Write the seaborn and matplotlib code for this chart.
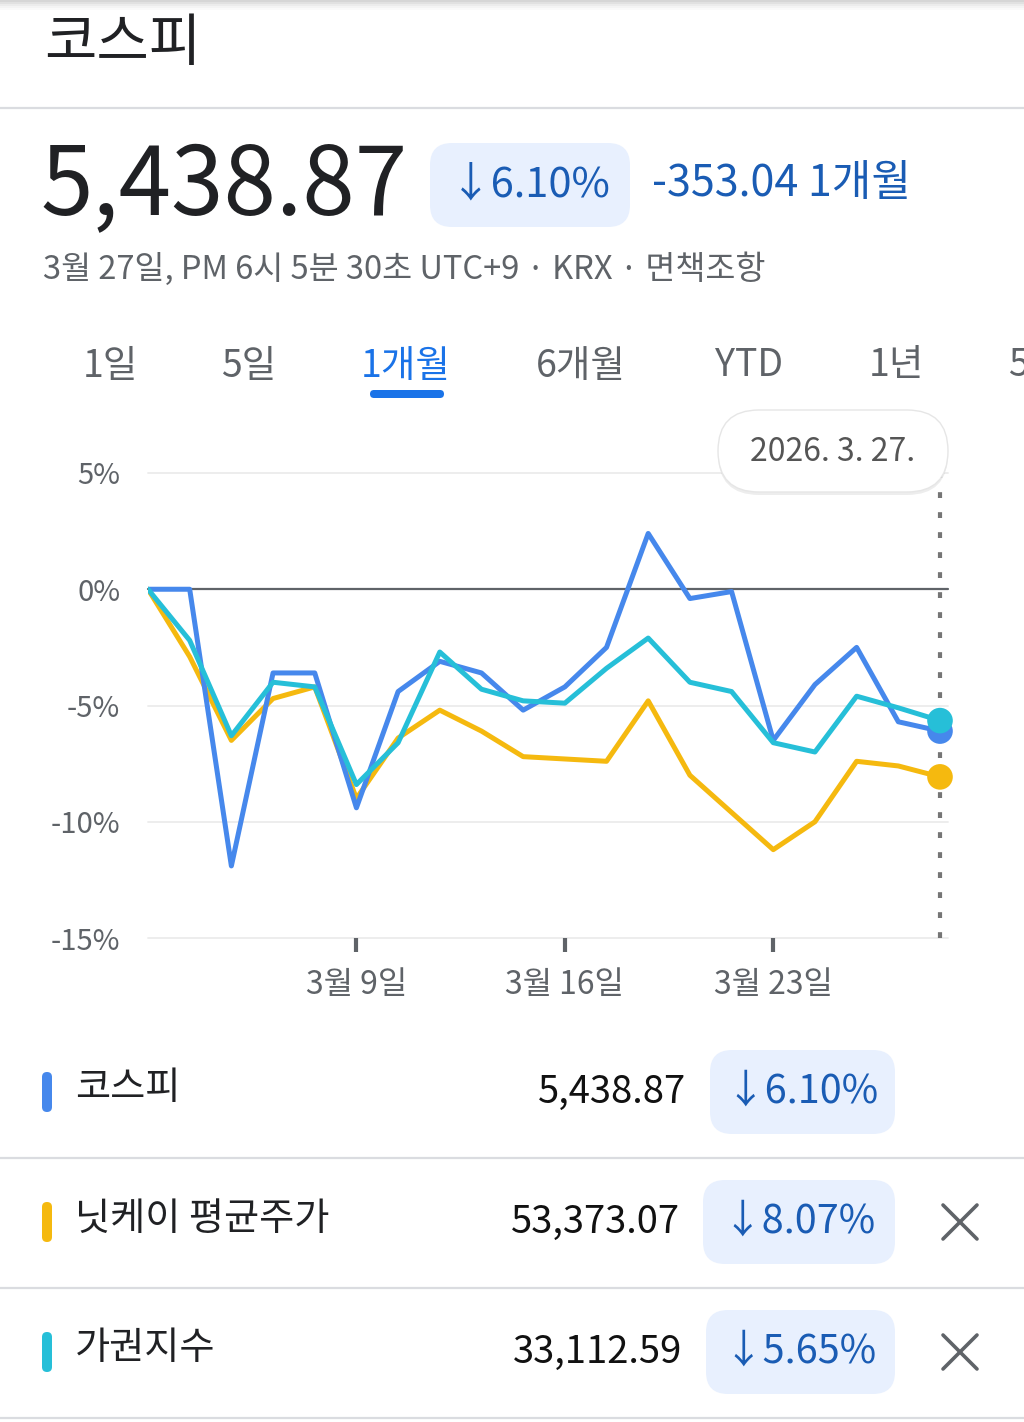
import matplotlib
matplotlib.use("Agg")
import matplotlib.pyplot as plt
from matplotlib.patches import FancyBboxPatch, Rectangle
import pandas as pd
import seaborn as sns

# trading sessions 3/2 .. 3/27, % change vs first session
sessions = list(range(20))
kospi = [0.0, 0.0, -11.9, -3.6, -3.6, -9.4, -4.4, -3.1, -3.6, -5.2,
         -4.2, -2.5, 2.4, -0.4, -0.1, -6.5, -4.1, -2.5, -5.7, -6.10]
nikkei = [0.0, -2.9, -6.5, -4.7, -4.2, -9.0, -6.4, -5.2, -6.1, -7.2,
          -7.3, -7.4, -4.8, -8.0, -9.6, -11.2, -10.0, -7.4, -7.6, -8.07]
taiex = [0.0, -2.2, -6.3, -4.0, -4.2, -8.4, -6.6, -2.7, -4.3, -4.8,
         -4.9, -3.4, -2.1, -4.0, -4.4, -6.6, -7.0, -4.6, -5.1, -5.65]

series_names = ["코스피", "닛케이 평균주가", "가권지수"]
series_colors = ["#4688ec", "#f5b90f", "#26bfd8"]
last_prices = ["5,438.87", "53,373.07", "33,112.59"]
changes = ["↓6.10%", "↓8.07%", "↓5.65%"]

y_ticks = [5, 0, -5, -10, -15]
y_tick_labels = ["5%", "0%", "-5%", "-10%", "-15%"]
x_tick_pos = [5, 10, 15]
x_tick_labels = ["3월 9일", "3월 16일", "3월 23일"]
range_tabs = ["1일", "5일", "1개월", "6개월", "YTD", "1년", "5"]

W, H = 1024, 1422
DARK = "#202124"
GRAY = "#5f6368"
PILL_BG = "#e8f0fe"
PILL_FG = "#1a5cb4"
SEP = "#dadce0"

sns.set_theme(style="white")
plt.rcParams["font.family"] = ["Noto Sans CJK KR", "DejaVu Sans"]

fig = plt.figure(figsize=(W / 100, H / 100), dpi=100)
fig.patch.set_facecolor("white")

# ---- chart --------------------------------------------------------------
ax = fig.add_axes([148 / W, 1 - 938 / H, (940 - 148) / W, (938 - 473) / H])
ax.set_facecolor("none")

df = pd.DataFrame({
    "session": sessions * 3,
    "pct": kospi + nikkei + taiex,
    "index": [series_names[0]] * 20 + [series_names[1]] * 20 + [series_names[2]] * 20,
})
palette = dict(zip(series_names, series_colors))
draw_order = [series_names[1], series_names[0], series_names[2]]

for t in y_ticks:
    if t != 0:
        ax.axhline(t, color="#ececec", lw=1.3, zorder=0, xmax=1.01, clip_on=False)
ax.axhline(0, color="#5f6368", lw=1.6, zorder=1, xmax=1.01, clip_on=False)
ax.vlines(19, -15, 5, color="#757575", lw=3,
          linestyles=[(0, (1.4, 3.4))], zorder=1, clip_on=False)

sns.lineplot(data=df, x="session", y="pct", hue="index", hue_order=draw_order,
             palette=palette, lw=3.6, ax=ax, legend=False, zorder=3)
last = df[df["session"] == sessions[-1]]
sns.scatterplot(data=last, x="session", y="pct", hue="index", hue_order=draw_order,
                palette=palette, s=340, linewidth=0, ax=ax, legend=False,
                zorder=4, clip_on=False)

ax.set_xlim(sessions[0], sessions[-1])
ax.set_ylim(-15, 5)
ax.set_yticks(y_ticks)
ax.set_yticklabels(y_tick_labels, fontsize=21, color=GRAY)
ax.set_xticks(x_tick_pos)
ax.set_xticklabels(x_tick_labels, fontsize=23, color=GRAY)
ax.tick_params(axis="y", left=False, length=0, pad=20)
ax.tick_params(axis="x", bottom=True, length=10, width=3, color=GRAY, pad=12,
               direction="out")
ax.set_xlabel("")
ax.set_ylabel("")
for s in ax.spines.values():
    s.set_visible(False)

# ---- page overlay (pixel coordinates) -----------------------------------
ov = fig.add_axes([0, 0, 1, 1], zorder=10)
ov.set_xlim(0, W)
ov.set_ylim(H, 0)
ov.axis("off")
ov.patch.set_alpha(0)

for i, a in enumerate([0.35, 0.25, 0.16, 0.09, 0.04]):
    ov.add_patch(Rectangle((0, i * 2), W, 2, color="#8a8a8a", alpha=a, lw=0))

ov.text(44, 44, "코스피", fontsize=41, color=DARK, va="center", ha="left")
for yy in (108, 1158, 1288, 1418):
    ov.plot([0, W], [yy, yy], color=SEP, lw=1.6, solid_capstyle="butt")

ov.text(40, 188, last_prices[0], fontsize=68, color=DARK, va="center", ha="left")


def pill(x0, x1, y0, y1, text, size):
    ov.add_patch(FancyBboxPatch((x0, y0), x1 - x0, y1 - y0,
                                boxstyle="round,pad=0,rounding_size=22",
                                fc=PILL_BG, ec="none"))
    ov.text((x0 + x1) / 2, (y0 + y1) / 2, text, fontsize=size, color=PILL_FG,
            va="center", ha="center")


pill(430, 630, 143, 227, changes[0], 30)
ov.text(652, 184, "-353.04 1개월", fontsize=31, color=PILL_FG, va="center", ha="left")
ov.text(43, 269, "3월 27일, PM 6시 5분 30초 UTC+9 · KRX · 면책조항",
        fontsize=23.5, color=GRAY, va="center", ha="left")

tab_x = [110, 249, 406, 581, 749, 896]
for label, tx in zip(range_tabs, tab_x):
    active = label == "1개월"
    ov.text(tx, 366, label, fontsize=27, color="#1a73e8" if active else GRAY,
            va="center", ha="center")
# last tab runs off the right edge, as in the screenshot
ov.text(1008, 366, range_tabs[-1], fontsize=27, color=GRAY, va="center", ha="left")
ov.add_patch(FancyBboxPatch((370, 390), 74, 8, boxstyle="round,pad=0,rounding_size=4",
                            fc="#1a73e8", ec="none"))

# tooltip
ov.add_patch(FancyBboxPatch((718, 413), 230, 82, boxstyle="round,pad=0,rounding_size=41",
                            fc="#000000", alpha=0.07, ec="none"))
ov.add_patch(FancyBboxPatch((718, 410), 230, 82, boxstyle="round,pad=0,rounding_size=41",
                            fc="white", ec="#e6e6e6", lw=1))
ov.text(833, 452, "2026. 3. 27.", fontsize=23, color="#555555", va="center", ha="center")

# legend rows
row_y = [1092, 1222, 1352]
price_right = [686, 680, 682]
pill_left = [710, 703, 706]
for i, (name, col, price, chg) in enumerate(zip(series_names, series_colors,
                                                 last_prices, changes)):
    yc = row_y[i]
    ov.add_patch(FancyBboxPatch((42, yc - 20), 10, 40, boxstyle="round,pad=0,rounding_size=5",
                                fc=col, ec="none"))
    ov.text(75, yc - 3, name, fontsize=27.5, color=DARK, va="center", ha="left")
    ov.text(price_right[i], yc, price, fontsize=27.5, color="#111111", va="center", ha="right")
    pill(pill_left[i], 895, yc - 42, yc + 42, chg, 28.5)
    if i > 0:
        ov.plot([943, 977], [yc - 17, yc + 17], color=GRAY, lw=2.6)
        ov.plot([943, 977], [yc + 17, yc - 17], color=GRAY, lw=2.6)

fig.savefig("out.png", dpi=100)
